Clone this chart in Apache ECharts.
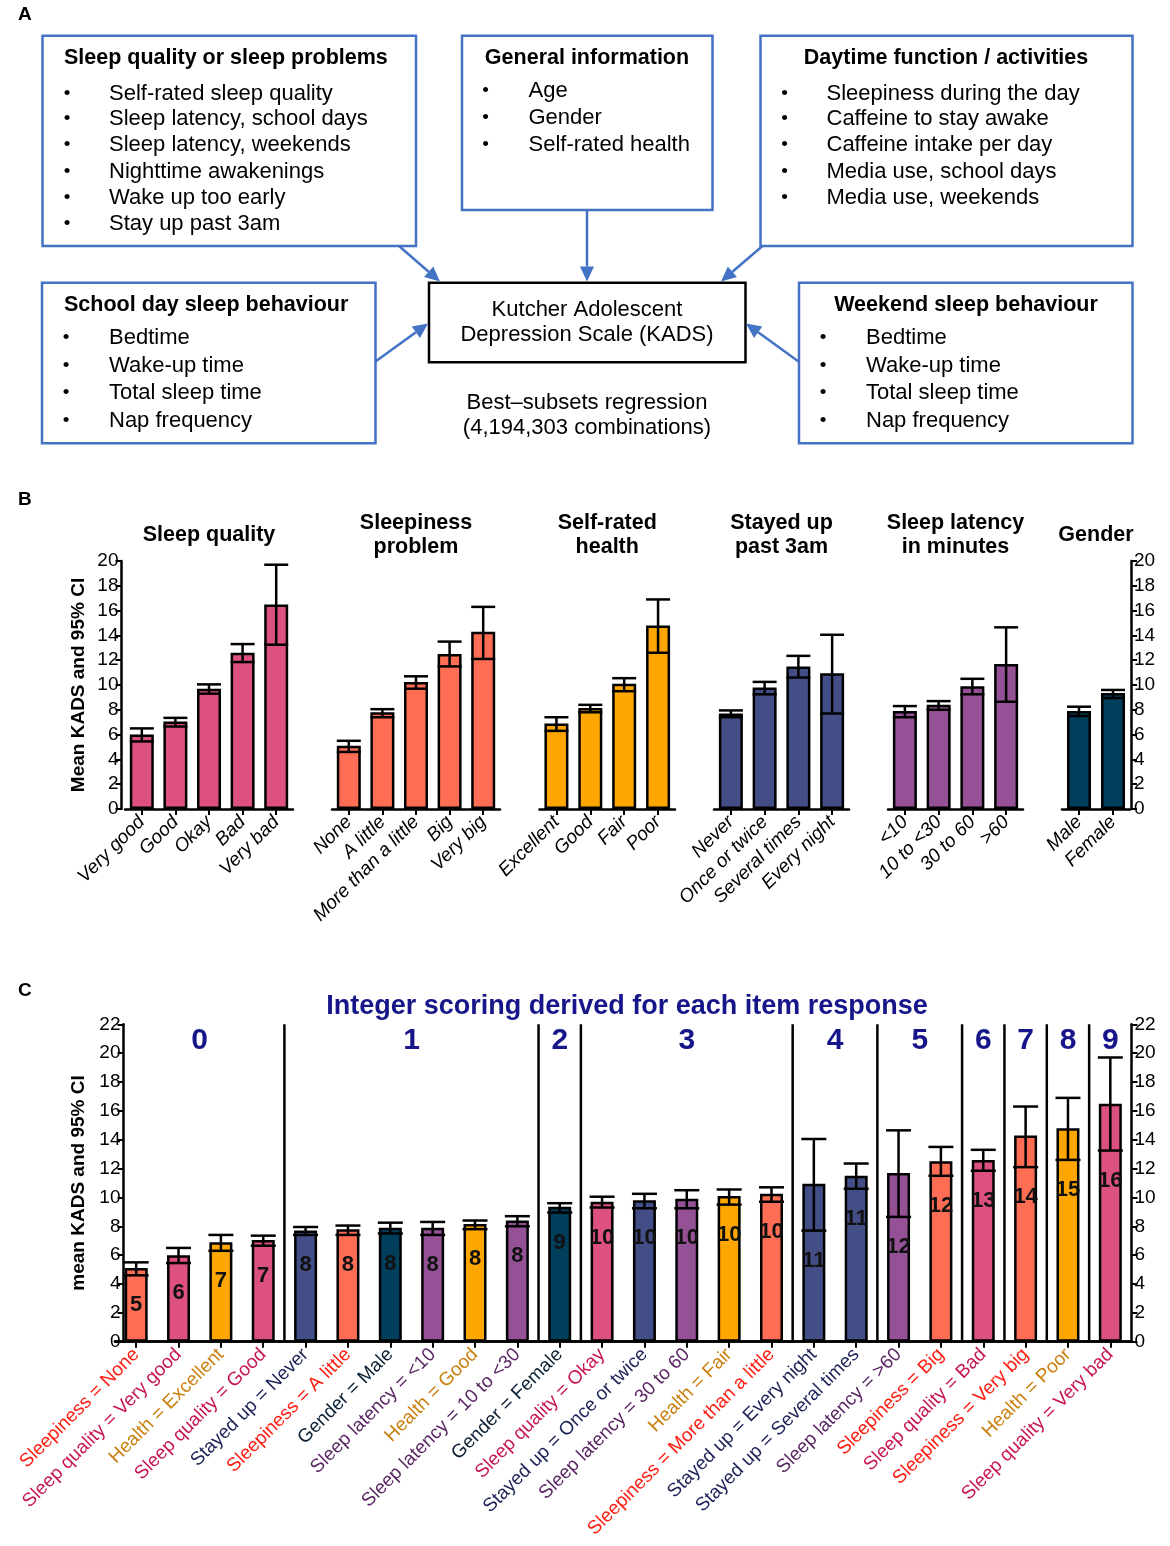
<!DOCTYPE html>
<html><head><meta charset="utf-8">
<script src="https://cdn.jsdelivr.net/npm/echarts@6/dist/echarts.min.js"></script>
<style>html,body{margin:0;padding:0;background:#fff}#c{width:1170px;height:1546px}</style>
</head><body><div id="c"></div>
<script>
// ---------------- DATA ----------------
const groupTitles = ['Sleep quality', 'Sleepiness\nproblem', 'Self-rated\nhealth', 'Stayed up\npast 3am', 'Sleep latency\nin minutes', 'Gender'];
const groupPrefixes = ['Sleep quality', 'Sleepiness', 'Health', 'Stayed up', 'Sleep latency', 'Gender'];

const sqCats = ['Very good', 'Good', 'Okay', 'Bad', 'Very bad'];
const sqMean = [6.0, 7.05, 9.7, 12.6, 16.5];
const sqLow  = [5.45, 6.65, 9.3, 11.85, 13.25];
const sqHigh = [6.5, 7.35, 10.05, 13.3, 19.7];

const slCats = ['None', 'A little', 'More than a little', 'Big', 'Very big'];
const slMean = [5.1, 7.8, 10.25, 12.5, 14.3];
const slLow  = [4.6, 7.4, 9.7, 11.5, 12.1];
const slHigh = [5.5, 8.05, 10.7, 13.5, 16.3];

const hCats = ['Excellent', 'Good', 'Fair', 'Poor'];
const hMean = [6.9, 8.15, 10.1, 14.8];
const hLow  = [6.3, 7.8, 9.5, 12.6];
const hHigh = [7.4, 8.4, 10.55, 16.9];

const suCats = ['Never', 'Once or twice', 'Several times', 'Every night'];
const suMean = [7.7, 9.8, 11.5, 10.95];
const suLow  = [7.4, 9.25, 10.6, 7.7];
const suHigh = [7.95, 10.25, 12.35, 14.05];

const latCats = ['<10', '10 to <30', '30 to 60', '>60'];
const latMean = [7.9, 8.4, 9.9, 11.7];
const latLow  = [7.4, 8.0, 9.25, 8.65];
const latHigh = [8.3, 8.7, 10.5, 14.65];

const gCats = ['Male', 'Female'];
const gMean = [7.9, 9.35];
const gLow  = [7.5, 8.95];
const gHigh = [8.25, 9.6];

const yTicksB = [0, 20, 2];   // min, max, interval
const yTicksC = [0, 22, 2];

// Panel C: items ordered by mean, points shown in bars, integer score groups
const cItems = ['Sleepiness = None', 'Sleep quality = Very good', 'Health = Excellent', 'Sleep quality = Good',
  'Stayed up = Never', 'Sleepiness = A little', 'Gender = Male', 'Sleep latency = <10', 'Health = Good',
  'Sleep latency = 10 to <30', 'Gender = Female', 'Sleep quality = Okay', 'Stayed up = Once or twice',
  'Sleep latency = 30 to 60', 'Health = Fair', 'Sleepiness = More than a little', 'Stayed up = Every night',
  'Stayed up = Several times', 'Sleep latency = >60', 'Sleepiness = Big', 'Sleep quality = Bad',
  'Sleepiness = Very big', 'Health = Poor', 'Sleep quality = Very bad'];
const cPoints = [5, 6, 7, 7, 8, 8, 8, 8, 8, 8, 9, 10, 10, 10, 10, 10, 11, 11, 12, 12, 13, 14, 15, 16];
const cScore  = [0, 0, 0, 0, 1, 1, 1, 1, 1, 1, 2, 3, 3, 3, 3, 3, 4, 4, 5, 5, 6, 7, 8, 9];

// ---------------- STYLE ----------------
const FONT = 'Liberation Sans, Arial, sans-serif';
const fills = {'Sleep quality': '#dd5182', 'Sleepiness': '#ff6e54', 'Health': '#ffa600',
  'Stayed up': '#444e86', 'Sleep latency': '#955196', 'Gender': '#003f5c'};
const labelColors = {'Sleep quality': '#c8174f', 'Sleepiness': '#ff1c10', 'Health': '#c98010',
  'Stayed up': '#1b2357', 'Sleep latency': '#5a2764', 'Gender': '#0b1f33'};
const NAVY = '#16168a';
const BLUE = '#4472c4';
const TICKFS = 19;

const groups = [
  {cats: sqCats, mean: sqMean, low: sqLow, high: sqHigh},
  {cats: slCats, mean: slMean, low: slLow, high: slHigh},
  {cats: hCats, mean: hMean, low: hLow, high: hHigh},
  {cats: suCats, mean: suMean, low: suLow, high: suHigh},
  {cats: latCats, mean: latMean, low: latLow, high: latHigh},
  {cats: gCats, mean: gMean, low: gLow, high: gHigh}
];
groups.forEach((g, i) => { g.prefix = groupPrefixes[i]; g.title = groupTitles[i]; });

// layout of panel B grids (left, width)
const bLayout = [[125, 168], [332, 168], [539.5, 135.5], [714, 135], [888, 135], [1062, 68]];
const bTop = 561, bHeight = 248;
const cLeft = 115, cWidth = 1016.5, cTop = 1024.3, cHeight = 317.4;

// ---------------- BUILD ----------------
function errRender(capHalf, withLabel) {
  return function (params, api) {
    const x = api.value(0);
    const lo = api.coord([x, api.value(1)]);
    const hi = api.coord([x, api.value(2)]);
    const st = {stroke: '#000', lineWidth: 2.5};
    const ch = [
      {type: 'line', shape: {x1: lo[0], y1: lo[1], x2: hi[0], y2: hi[1]}, style: st},
      {type: 'line', shape: {x1: lo[0] - capHalf, y1: lo[1], x2: lo[0] + capHalf, y2: lo[1]}, style: st},
      {type: 'line', shape: {x1: hi[0] - capHalf, y1: hi[1], x2: hi[0] + capHalf, y2: hi[1]}, style: st}
    ];
    if (withLabel) {
      ch.push({type: 'text', style: {text: String(api.value(3)), x: lo[0], y: lo[1] + 30,
        textAlign: 'center', textVerticalAlign: 'middle', align: 'center', verticalAlign: 'middle',
        font: 'bold 22px ' + FONT, fill: '#111'}});
    }
    return {type: 'group', children: ch};
  };
}

const grid = [], xAxis = [], yAxis = [], series = [], graphic = [];

const axisLineStyle = {show: true, lineStyle: {color: '#000', width: 2.5}};
const tickStyle = {show: true, length: 6, lineStyle: {color: '#000', width: 2}};

groups.forEach((g, gi) => {
  const [l, w] = bLayout[gi];
  grid.push({left: l, top: bTop, width: w, height: bHeight});
  xAxis.push({type: 'category', gridIndex: gi, data: g.cats, axisLine: axisLineStyle,
    axisTick: Object.assign({alignWithLabel: true}, tickStyle),
    axisLabel: {interval: 0, rotate: 45, fontSize: TICKFS, fontStyle: 'italic', color: '#000', fontFamily: FONT, margin: 10}});
  const ya = {type: 'value', gridIndex: gi, min: yTicksB[0], max: yTicksB[1], interval: yTicksB[2],
    splitLine: {show: false}, axisLine: axisLineStyle, axisTick: tickStyle,
    axisLabel: {fontSize: TICKFS, color: '#000', fontFamily: FONT, margin: 3}};
  if (gi === 0) {
    Object.assign(ya, {offset: 3.5, name: 'Mean KADS and 95% CI', nameLocation: 'middle', nameGap: 33,
      nameTextStyle: {fontSize: 19, fontWeight: 'bold', color: '#000', fontFamily: FONT}});
  } else if (gi === groups.length - 1) {
    Object.assign(ya, {position: 'right', offset: 1});
  } else {
    ya.show = false;
  }
  yAxis.push(ya);
  series.push({type: 'bar', xAxisIndex: gi, yAxisIndex: gi, data: g.mean, barWidth: 24,
    itemStyle: {color: fills[g.prefix], borderColor: '#000', borderWidth: 2.5}, silent: true, animation: false});
  series.push({type: 'custom', xAxisIndex: gi, yAxisIndex: gi, z: 5, clip: false, animation: false,
    renderItem: errRender(12, false),
    data: g.mean.map((m, i) => [i, g.low[i], g.high[i]])});
  graphic.push({type: 'text', style: {text: g.title, x: l + w / 2, y: 535,
    textAlign: 'center', textVerticalAlign: 'middle', align: 'center', verticalAlign: 'middle',
    font: 'bold 21.5px ' + FONT, fill: '#000', lineHeight: 24}});
});

// ---- Panel C ----
const CG = groups.length;
grid.push({left: cLeft, top: cTop, width: cWidth, height: cHeight});
const cRows = cItems.map(lbl => {
  const [pre, cat] = lbl.split(' = ');
  const g = groups.find(gg => gg.prefix === pre);
  const i = g.cats.indexOf(cat);
  return {lbl, pre, mean: g.mean[i], low: g.low[i], high: g.high[i]};
});
xAxis.push({type: 'category', gridIndex: CG, data: cRows.map(r => ({value: r.lbl, textStyle: {color: labelColors[r.pre]}})),
  axisLine: axisLineStyle, axisTick: Object.assign({alignWithLabel: true}, tickStyle),
  axisLabel: {interval: 0, rotate: 45, fontSize: TICKFS, fontFamily: FONT, margin: 10}});
xAxis.push({type: 'category', gridIndex: CG, position: 'top', data: cItems,
  axisLine: axisLineStyle, axisTick: {show: false}, axisLabel: {show: false}});
yAxis.push({type: 'value', gridIndex: CG, min: yTicksC[0], max: yTicksC[1], interval: yTicksC[2], offset: -8.5,
  splitLine: {show: false}, axisLine: axisLineStyle, axisTick: tickStyle,
  axisLabel: {fontSize: TICKFS, color: '#000', fontFamily: FONT, margin: 3},
  name: 'mean KADS and 95% CI', nameLocation: 'middle', nameGap: 35,
  nameTextStyle: {fontSize: 19, fontWeight: 'bold', color: '#000', fontFamily: FONT}});
yAxis.push({type: 'value', gridIndex: CG, position: 'right', min: yTicksC[0], max: yTicksC[1], interval: yTicksC[2],
  splitLine: {show: false}, axisLine: axisLineStyle, axisTick: tickStyle,
  axisLabel: {fontSize: TICKFS, color: '#000', fontFamily: FONT, margin: 3}});
series.push({type: 'bar', xAxisIndex: CG, yAxisIndex: CG, barWidth: 23, animation: false, silent: true,
  data: cRows.map(r => ({value: r.mean, itemStyle: {color: fills[r.pre]}})),
  itemStyle: {borderColor: '#000', borderWidth: 2.5}});
series.push({type: 'custom', xAxisIndex: CG, yAxisIndex: CG, z: 5, clip: false, animation: false,
  renderItem: errRender(12.5, true),
  data: cRows.map((r, i) => [i, r.low, r.high, cPoints[i]])});
// separators + score numbers
const segs = [];
let s0 = 0;
for (let i = 1; i <= cScore.length; i++) {
  if (i === cScore.length || cScore[i] !== cScore[s0]) { segs.push([s0, i - 1, cScore[s0]]); s0 = i; }
}
series.push({type: 'custom', xAxisIndex: CG, yAxisIndex: CG, z: 6, clip: false, animation: false,
  data: segs,
  renderItem: function (params, api) {
    const a = api.value(0), b = api.value(1);
    const pa = api.coord([a, yTicksC[1]]), pb = api.coord([b, yTicksC[1]]);
    const bw = api.size([1, 0])[0];
    const base = api.coord([b, 0]);
    const ch = [{type: 'text', style: {text: String(api.value(2)), x: (pa[0] + pb[0]) / 2, y: pa[1] + 16,
      textAlign: 'center', textVerticalAlign: 'middle', align: 'center', verticalAlign: 'middle',
      font: 'bold 30px ' + FONT, fill: NAVY}}];
    if (b < cScore.length - 1) {
      const xs = pb[0] + bw / 2;
      ch.push({type: 'line', shape: {x1: xs, y1: pb[1], x2: xs, y2: base[1]}, style: {stroke: '#000', lineWidth: 2.5}});
    }
    return {type: 'group', children: ch};
  }});

// ---- Panel A (diagram) + panel letters ----
function txt(t, x, y, opts) {
  opts = opts || {};
  return {type: 'text', style: {text: t, x: x, y: y, textAlign: opts.align || 'left', align: opts.align || 'left',
    textVerticalAlign: 'middle', verticalAlign: 'middle', font: (opts.bold ? 'bold ' : '') + (opts.size || 22) + 'px ' + FONT,
    fill: opts.color || '#000', lineHeight: opts.lh || 25}};
}
function rect(x, y, w, h, color) {
  return {type: 'rect', shape: {x: x, y: y, width: w, height: h}, style: {fill: 'none', stroke: color, lineWidth: 2.5}};
}
function arrow(x1, y1, x2, y2) {
  const dx = x2 - x1, dy = y2 - y1, L = Math.hypot(dx, dy), ux = dx / L, uy = dy / L;
  const hl = 15, hw = 7;
  const bx = x2 - ux * hl, by = y2 - uy * hl;
  return [
    {type: 'line', shape: {x1: x1, y1: y1, x2: bx, y2: by}, style: {stroke: BLUE, lineWidth: 2.5}},
    {type: 'polygon', shape: {points: [[x2, y2], [bx - uy * hw, by + ux * hw], [bx + uy * hw, by - ux * hw]]}, style: {fill: BLUE}}
  ];
}
function box(x, y, w, h, title, titleX, titleAlign, bulletX, textX, items, ys) {
  const out = [rect(x, y, w, h, BLUE), txt(title, titleX, 58 + (y - 35.7), {bold: true, align: titleAlign, size: 21.5})];
  items.forEach((it, i) => {
    out.push(txt('•', bulletX, ys[i], {align: 'center', size: 19}));
    out.push(txt(it, textX, ys[i]));
  });
  return out;
}
const boxItems1 = ['Self-rated sleep quality', 'Sleep latency, school days', 'Sleep latency, weekends', 'Nighttime awakenings', 'Wake up too early', 'Stay up past 3am'];
const boxItems2 = ['Age', 'Gender', 'Self-rated health'];
const boxItems3 = ['Sleepiness during the day', 'Caffeine to stay awake', 'Caffeine intake per day', 'Media use, school days', 'Media use, weekends'];
const boxItems4 = ['Bedtime', 'Wake-up time', 'Total sleep time', 'Nap frequency'];

graphic.push(
  txt('A', 18, 15, {bold: true, size: 19}), txt('B', 18, 500, {bold: true, size: 19}), txt('C', 18, 991, {bold: true, size: 19}),
  ...box(42.5, 35.7, 373.5, 210.3, 'Sleep quality or sleep problems', 64, 'left', 67, 109, boxItems1, [93.5, 119, 145, 172, 197.5, 224]),
  ...box(462, 35.7, 250.5, 174.3, 'General information', 587, 'center', 485.5, 528.5, boxItems2, [91, 118, 145]),
  ...box(760.5, 35.7, 372, 210.3, 'Daytime function / activities', 946, 'center', 784.5, 826.5, boxItems3, [93.5, 119, 145, 172, 197.5]),
  ...box(42, 282.7, 333.5, 160.6, 'School day sleep behaviour', 64, 'left', 66, 109, boxItems4, [338, 365.5, 392.5, 420.5]),
  ...box(799, 282.7, 333.5, 160.6, 'Weekend sleep behaviour', 966, 'center', 823, 866, boxItems4, [338, 365.5, 392.5, 420.5]),
  {type: 'rect', shape: {x: 429, y: 282.7, width: 316.5, height: 79.6}, style: {fill: 'none', stroke: '#000', lineWidth: 2.5}},
  txt('Kutcher Adolescent', 587, 310, {align: 'center'}),
  txt('Depression Scale (KADS)', 587, 335, {align: 'center'}),
  txt('Best\u2013subsets regression', 587, 403, {align: 'center'}),
  txt('(4,194,303 combinations)', 587, 427.5, {align: 'center'}),
  ...arrow(399, 246, 440, 281.5),
  ...arrow(587, 210, 587, 281.5),
  ...arrow(762.5, 246, 721, 281.5),
  ...arrow(375.5, 361.5, 428, 323.5),
  ...arrow(798.5, 361.5, 746, 323.5),
  txt('Integer scoring derived for each item response', 627, 1007, {align: 'center', bold: true, size: 27, color: NAVY})
);

const chart = echarts.init(document.getElementById('c'), null, {renderer: 'canvas'});
chart.setOption({
  animation: false,
  backgroundColor: '#fff',
  textStyle: {fontFamily: FONT},
  grid: grid, xAxis: xAxis, yAxis: yAxis, series: series,
  graphic: {elements: graphic}
});
</script>
</body></html>
